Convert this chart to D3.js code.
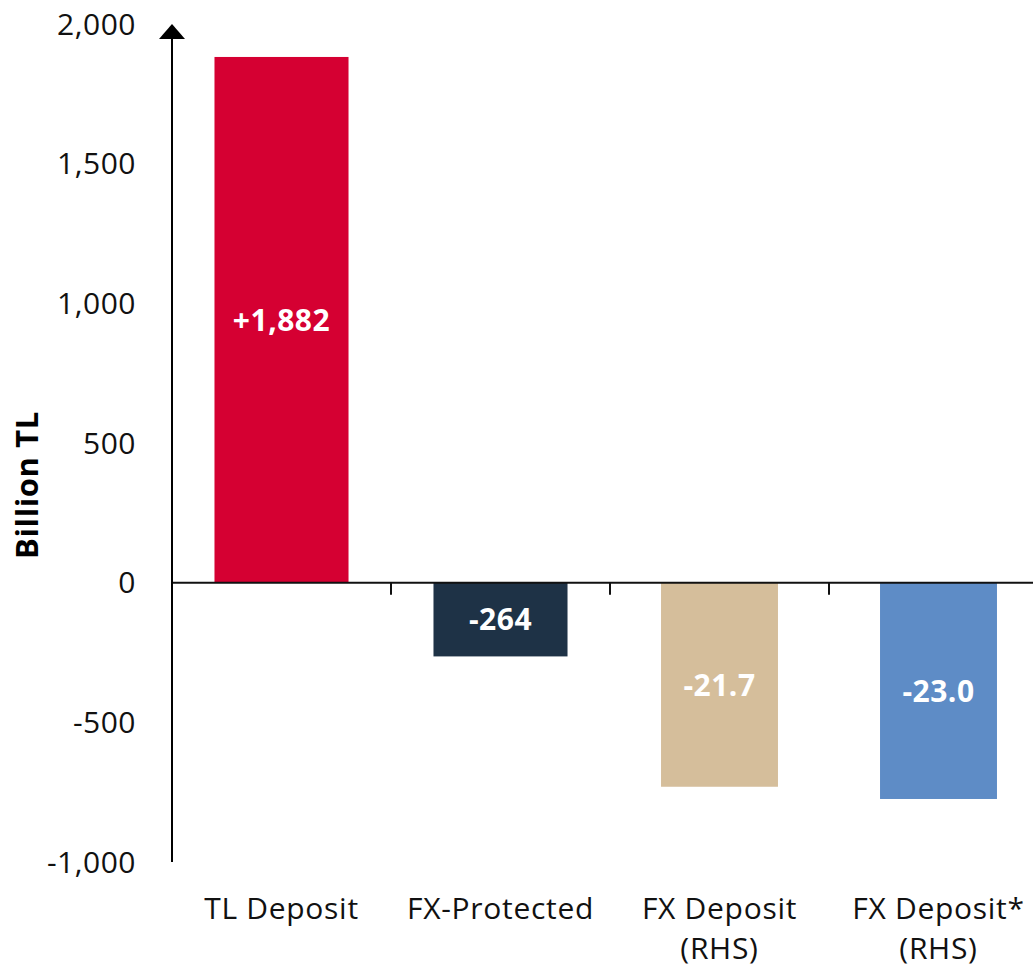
<!DOCTYPE html>
<html>
<head>
<meta charset="utf-8">
<script src="https://cdn.jsdelivr.net/npm/d3@7"></script>
<style>
	body { margin: 0; background: #fff; }
	svg { display: block; font-family: "Open Sans", sans-serif; }
</style>
</head>
<body>
<svg id="chart" width="1033" height="973"></svg>
<script>
const categories = ['TL Deposit', 'FX-Protected', 'FX Deposit\n(RHS)', 'FX Deposit*\n(RHS)'];
const values = [1882, -264, -21.7, -23.0];
const valueLabels = ['+1,882', '-264', '-21.7', '-23.0'];
const axisSide = ['left', 'left', 'right', 'right'];
const barColors = ['#d50032', '#1e3246', '#d5be9b', '#5e8cc6'];
const leftTicks = [-1000, -500, 0, 500, 1000, 1500, 2000];
const leftDomain = [-1000, 2000];
const rhsDomain = [-29.7, 59.4];

const svg = d3.select('#chart');
const axisX = 172;

const y = d3.scaleLinear().domain(leftDomain).range([862, 24]);
const yRight = d3.scaleLinear().domain(rhsDomain).range([862, 24]);
const x = d3.scaleBand().domain(categories).range([axisX, 1048]);

const scaleFor = i => axisSide[i] === 'left' ? y : yRight;
const barWidth = i => x.bandwidth() * (axisSide[i] === 'left' ? 0.612 : 0.534);

// bars
svg.append('g')
	.selectAll('rect')
	.data(categories)
	.enter()
		.append('rect')
		.attr('x', (d, i) => x(d) + (x.bandwidth() - barWidth(i)) / 2)
		.attr('width', (d, i) => barWidth(i))
		.attr('y', (d, i) => Math.min(scaleFor(i)(values[i]), scaleFor(i)(0)))
		.attr('height', (d, i) => Math.abs(scaleFor(i)(values[i]) - scaleFor(i)(0)))
		.attr('fill', (d, i) => barColors[i]);

// value labels
svg.append('g')
	.selectAll('text')
	.data(categories)
	.enter()
		.append('text')
		.attr('x', d => x(d) + x.bandwidth() / 2)
		.attr('y', (d, i) => (scaleFor(i)(values[i]) + scaleFor(i)(0)) / 2)
		.attr('dy', '0.36em')
		.attr('text-anchor', 'middle')
		.attr('fill', '#fff')
		.attr('font-weight', 700)
		.attr('font-size', 30)
		.attr('letter-spacing', 0.5)
		.text((d, i) => valueLabels[i]);

// left axis tick labels
svg.append('g')
	.selectAll('text')
	.data(leftTicks)
	.enter()
		.append('text')
		.attr('x', 136)
		.attr('y', d => y(d))
		.attr('dy', '0.36em')
		.attr('text-anchor', 'end')
		.attr('font-size', 30)
		.attr('letter-spacing', 0.5)
		.attr('fill', '#111')
		.text(d => d3.format(',')(d).replace('−', '-'));

// zero line and category boundary ticks
const zeroY = y(0);
svg.append('line')
	.attr('x1', axisX).attr('x2', 1033)
	.attr('y1', zeroY).attr('y2', zeroY)
	.attr('stroke', '#111').attr('stroke-width', 2);

svg.append('g')
	.selectAll('line')
	.data(categories.slice(1))
	.enter()
		.append('line')
		.attr('x1', d => x(d)).attr('x2', d => x(d))
		.attr('y1', zeroY).attr('y2', zeroY + 12)
		.attr('stroke', '#111').attr('stroke-width', 2);

// y axis with arrow
svg.append('line')
	.attr('x1', axisX).attr('x2', axisX)
	.attr('y1', y(-1000)).attr('y2', 38)
	.attr('stroke', '#000').attr('stroke-width', 2);
svg.append('path')
	.attr('d', `M${axisX - 13},39 L${axisX},24 L${axisX + 13},39 Z`)
	.attr('fill', '#000');

// category labels
const cat = svg.append('g')
	.selectAll('text')
	.data(categories)
	.enter()
		.append('text')
		.attr('text-anchor', 'middle')
		.attr('font-size', 30)
		.attr('letter-spacing', 0.7)
		.attr('fill', '#111')
		.attr('transform', d => `translate(${x(d) + x.bandwidth() / 2},919)`);
cat.selectAll('tspan')
	.data(d => d.split('\n'))
	.enter()
		.append('tspan')
		.attr('x', 0)
		.attr('y', (d, i) => i * 40)
		.text(d => d);

// y axis title
svg.append('text')
	.attr('transform', 'translate(38,485) rotate(-90)')
	.attr('text-anchor', 'middle')
	.attr('font-weight', 700)
	.attr('font-size', 31)
	.attr('letter-spacing', 0.6)
	.attr('fill', '#000')
	.text('Billion TL');
</script>
</body>
</html>
